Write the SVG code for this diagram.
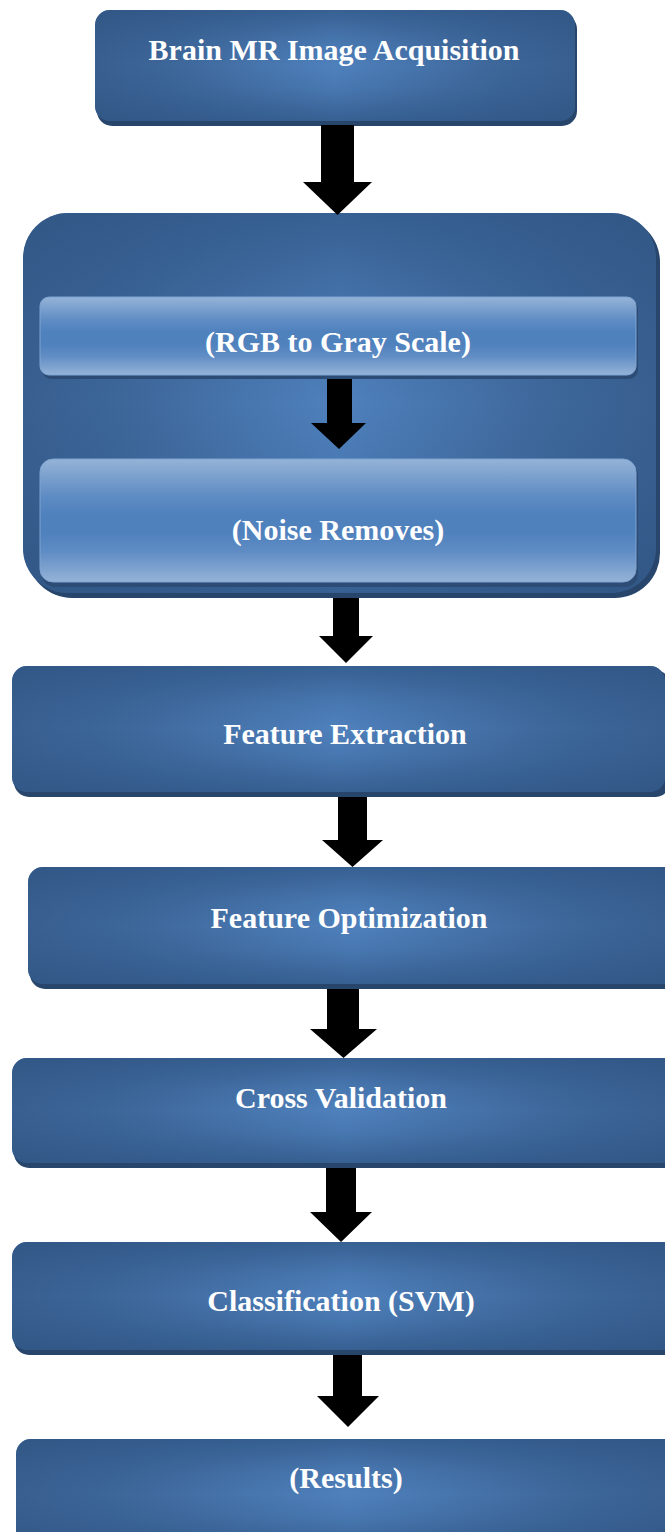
<svg xmlns="http://www.w3.org/2000/svg" width="665" height="1532" viewBox="0 0 665 1532">
<defs>
<linearGradient id="hg" x1="0" y1="0" x2="1" y2="0">
<stop offset="0" stop-color="#385f8f"/>
<stop offset="0.15" stop-color="#3d6699"/>
<stop offset="0.5" stop-color="#4f81bd"/>
<stop offset="0.85" stop-color="#3d6699"/>
<stop offset="1" stop-color="#385f8f"/>
</linearGradient>
<linearGradient id="vg" x1="0" y1="0" x2="0" y2="1">
<stop offset="0" stop-color="#2f5584" stop-opacity="0.75"/>
<stop offset="0.3" stop-color="#2f5584" stop-opacity="0.2"/>
<stop offset="0.5" stop-color="#2f5584" stop-opacity="0"/>
<stop offset="0.7" stop-color="#2f5584" stop-opacity="0.2"/>
<stop offset="1" stop-color="#2f5584" stop-opacity="0.75"/>
</linearGradient>
<linearGradient id="lg" x1="0" y1="0" x2="0" y2="1">
<stop offset="0" stop-color="#95b3d7"/>
<stop offset="0.3" stop-color="#5f8cc4"/>
<stop offset="0.45" stop-color="#4f81bd"/>
<stop offset="0.6" stop-color="#4f81bd"/>
<stop offset="0.75" stop-color="#5f8cc4"/>
<stop offset="1" stop-color="#95b3d7"/>
</linearGradient>
</defs>
<style>
.sh{fill:#28466c}
.face{fill:url(#hg)}
.ov{fill:url(#vg)}
.lface{fill:url(#lg);stroke:#7ea3d1;stroke-width:1}
.lsh{fill:#2c4c76}
.t{font-family:"Liberation Serif","Times New Roman",serif;font-weight:bold;font-size:30px;fill:#ffffff;text-anchor:middle}
.arr{fill:#000000}
</style>

<g id="node-acquisition">
<rect class="sh" x="97" y="14" width="480" height="112" rx="15"/>
<rect class="face" x="95" y="10" width="480" height="111" rx="15"/>
<rect class="ov" x="95" y="10" width="480" height="111" rx="15"/>
<text class="t" x="334" y="60">Brain MR Image Acquisition</text>
</g>

<g id="node-preprocessing">
<rect class="sh" x="27" y="217" width="633" height="381" rx="45"/>
<rect class="face" x="23" y="213" width="633" height="380" rx="45"/>
<rect class="ov" x="23" y="213" width="633" height="380" rx="45"/>
</g>

<g id="node-rgb">
<rect class="lsh" x="42" y="300" width="596" height="79" rx="9"/>
<rect class="lface" x="40" y="297" width="596" height="78" rx="9"/>
<text class="t" x="338" y="352">(RGB to Gray Scale)</text>
</g>

<g id="node-noise">
<rect class="lsh" x="42" y="463" width="596" height="124" rx="13"/>
<rect class="lface" x="40" y="459" width="596" height="123" rx="13"/>
<text class="t" x="338" y="540">(Noise Removes)</text>
</g>

<g id="node-extraction">
<rect class="sh" x="14" y="670" width="656" height="127" rx="15"/>
<rect class="face" x="12" y="666" width="653" height="126" rx="15"/>
<rect class="ov" x="12" y="666" width="653" height="126" rx="15"/>
<text class="t" x="345" y="744">Feature Extraction</text>
</g>

<g id="node-optimization">
<rect class="sh" x="30" y="871" width="650" height="118" rx="15"/>
<rect class="face" x="28" y="867" width="650" height="117" rx="15"/>
<rect class="ov" x="28" y="867" width="650" height="117" rx="15"/>
<text class="t" x="349" y="928">Feature Optimization</text>
</g>

<g id="node-cross-validation">
<rect class="sh" x="14" y="1062" width="666" height="106" rx="15"/>
<rect class="face" x="12" y="1058" width="666" height="105" rx="15"/>
<rect class="ov" x="12" y="1058" width="666" height="105" rx="15"/>
<text class="t" x="341" y="1108">Cross Validation</text>
</g>

<g id="node-classification">
<rect class="sh" x="14" y="1246" width="666" height="109" rx="15"/>
<rect class="face" x="12" y="1242" width="666" height="108" rx="15"/>
<rect class="ov" x="12" y="1242" width="666" height="108" rx="15"/>
<text class="t" x="341" y="1311">Classification (SVM)</text>
</g>

<g id="node-results">
<rect class="sh" x="18" y="1443" width="666" height="110" rx="15"/>
<rect class="face" x="16" y="1439" width="666" height="110" rx="15"/>
<rect class="ov" x="16" y="1439" width="666" height="110" rx="15"/>
<text class="t" x="346" y="1488">(Results)</text>
</g>

<g id="connectors">
<polygon class="arr" points="321,125 354,125 354,182 372,182 337.5,215 303,182 321,182"/>
<polygon class="arr" points="327,379 352,379 352,423 366,423 339,449 311,423 327,423"/>
<polygon class="arr" points="333,598 359,598 359,636 373,636 346,663 319,636 333,636"/>
<polygon class="arr" points="338,797 367,797 367,840 383,840 352.5,867 322,840 338,840"/>
<polygon class="arr" points="327,989 359,989 359,1029 377,1029 343.5,1058 310,1029 327,1029"/>
<polygon class="arr" points="326,1168 356,1168 356,1212 372,1212 341,1242 310,1212 326,1212"/>
<polygon class="arr" points="333,1355 362,1355 362,1396 379,1396 348,1427 317,1396 333,1396"/>
</g>
</svg>
